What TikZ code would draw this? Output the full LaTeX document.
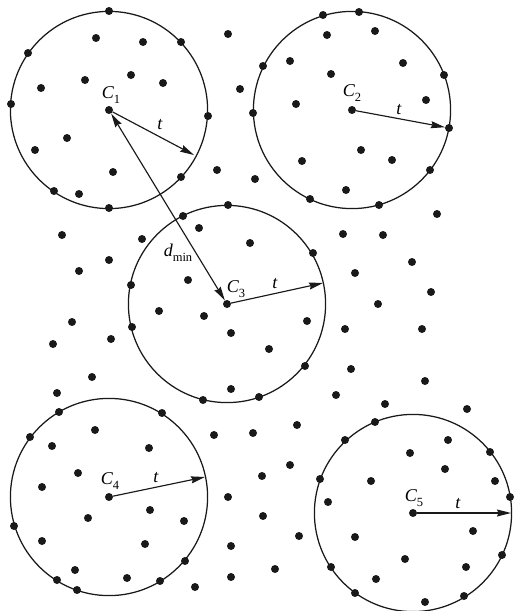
\documentclass[tikz,border=0pt]{standalone}
\usepackage{fontspec}
\setmainfont{Liberation Serif}
\usetikzlibrary{arrows.meta}
\tikzset{
  dot/.style={circle,fill=black!90,inner sep=0pt,minimum size=8pt},
  ring/.style={line width=1.25pt,black!90},
  arr/.style={line width=1.15pt,black!90,-{Stealth[length=14pt,width=7pt,inset=1.5pt]}},
  darr/.style={line width=1.15pt,black!90,{Stealth[length=14pt,width=7pt,inset=1.5pt]}-{Stealth[length=14pt,width=7pt,inset=1.5pt]}},
  lbl/.style={inner sep=0pt,font=\fontsize{18}{20}\selectfont}
}
\newcommand\mysub[1]{\raisebox{-0.3em}{\fontsize{12.5}{13}\selectfont #1}}
\begin{document}
\begin{tikzpicture}[x=1pt,y=-1pt]
\useasboundingbox (0,0) rectangle (515,611);
% centres
\node[dot] (c1) at (109,110) {};
\node[dot] (c2) at (352,110) {};
\node[dot] (c3) at (227,304) {};
\node[dot] (c4) at (109,497) {};
\node[dot] (c5) at (413,513) {};
% circles
\foreach \c in {c1,c2,c3,c4,c5} \draw[ring] (\c.center) circle[radius=98.6pt];
% other points
\foreach \x/\y [count=\i] in {
109/11,96/38,143/42,28/53,85/80,131/75,163/83,41/88,11/104,67/138,35/150,
181/42,228/34,323/15,327/35,290/61,263/66,331/74,240/89,208/116,253/113,296/104,
359/12,375/31,403/63,444/75,426/100,361/150,
113/172,54/191,79/194,109/208,62/235,142/239,109/260,79/271,131/285,
302/161,217/170,181/177,255/179,310/199,228/205,183/216,199/228,250/243,343/234,313/253,188/280,
392/160,430/170,346/190,379/205,437/214,383/235,412/262,355/273,431/292,378/304,
159/311,72/322,132/327,53/344,111/339,92/377,57/393,59/412,162/413,95/430,30/437,52/446,149/448,
204/316,307/321,231/333,345/329,269/349,305/366,231/389,203/400,259/397,336/395,297/425,214/435,253/433,345/440,
422/329,351/369,425/381,385/404,467/409,375/422,448/440,410/453,490/452,
78/473,42/487,150/510,88/518,14/526,42/541,145/544,75/570,57/580,127/578,77/590,160/581,
290/465,262/476,320/479,228/497,328/502,184/521,263/516,299/536,231/546,185/561,275/569,331/567,231/577,195/587,
445/469,371/481,495/481,510/497,473/531,355/537,502/555,405/559,466/567,376/579,355/593,464/596,425/602}
  \node[dot] (d\i) at (\x,\y) {};
\node[dot] (p2) at (449,128) {};
% radius ends
\coordinate (e1) at (194,155);
\coordinate (e3) at (323,283);
\coordinate (e4) at (205,477);
\coordinate (e5) at (511,513);
% arrows
\draw[arr] (c1) -- (e1);
\draw[arr] (c2) -- (p2);
\draw[arr] (c3) -- (e3);
\draw[arr] (c4) -- (e4);
\draw[arr] (c5) -- (e5);
\draw[darr] (c1) -- (c3);
% labels
\node[lbl] (l1) at (111,95) {\textit{C}\mysub{1}};
\node[lbl] (l2) at (352,93) {\textit{C}\mysub{2}};
\node[lbl] (l3) at (236,289) {\textit{C}\mysub{3}};
\node[lbl] (l4) at (110,481) {\textit{C}\mysub{4}};
\node[lbl] (l5) at (414,498) {\textit{C}\mysub{5}};
\node[lbl] (t1) at (160,125) {\textit{t}};
\node[lbl] (t2) at (399,110) {\textit{t}};
\node[lbl] (t3) at (275,284) {\textit{t}};
\node[lbl] (t4) at (156,478) {\textit{t}};
\node[lbl] (t5) at (458,504) {\textit{t}};
\node[lbl] (dm) at (178,253) {\textit{d}\mysub{min}};
\end{tikzpicture}
\end{document}
